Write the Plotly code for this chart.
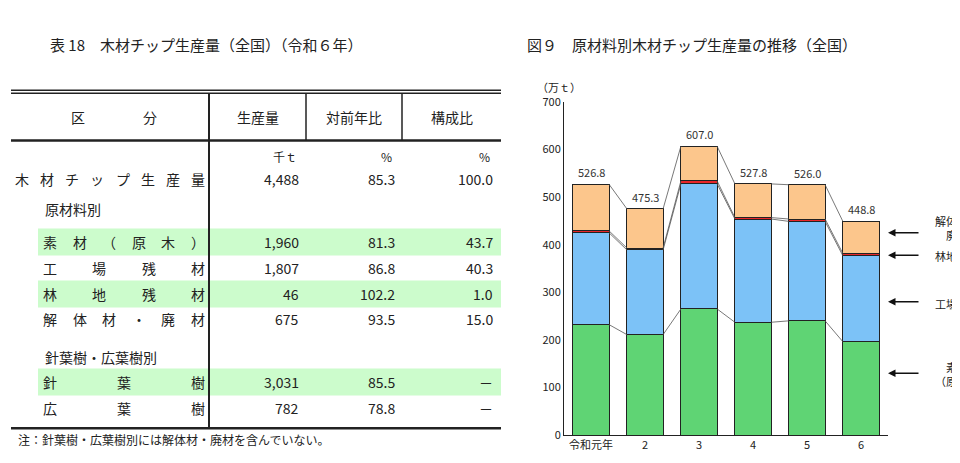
import plotly.graph_objects as go

years = ["令和元年", "2", "3", "4", "5", "6"]
sozai = [232.0, 211.0, 265.0, 237.0, 240.0, 196.0]
kojo = [193.0, 178.0, 263.0, 217.0, 209.0, 180.7]
rinchi = [4.0, 4.0, 6.0, 3.0, 5.0, 4.6]
kaitai = [97.8, 82.3, 73.0, 70.8, 72.0, 67.5]
totals = ["526.8", "475.3", "607.0", "527.8", "526.0", "448.8"]
series_names = ["素材（原木）", "工場残材", "林地残材", "解体材・廃材"]
series_colors = ["#5fd474", "#7cc2f7", "#e8262a", "#fcc68c"]

row_labels = ["木材チップ生産量", "原材料別", "素材（原木）", "工場残材", "林地残材", "解体材・廃材",
              "針葉樹・広葉樹別", "針葉樹", "広葉樹"]
col_prod = ["4,488", "", "1,960", "1,807", "46", "675", "", "3,031", "782"]
col_yoy = ["85.3", "", "81.3", "86.8", "102.2", "93.5", "", "85.5", "78.8"]
col_share = ["100.0", "", "43.7", "40.3", "1.0", "15.0", "", "－", "－"]
highlight = [False, False, True, False, True, False, False, True, False]
row_y = [168, 199, 233, 260, 287, 313, 352, 378, 405]

W, H = 960, 463
px = lambda x: x / W
py = lambda y: (H - y) / H
FONT = "Noto Sans CJK JP"

fig = go.Figure()
stack = [sozai, kojo, rinchi, kaitai]
xs = list(range(len(years)))
bw = 0.67
for vals, name, col in zip(stack, series_names, series_colors):
    fig.add_trace(go.Bar(x=xs, y=vals, name=name, width=bw, marker=dict(color=col, line=dict(color="#222", width=1))))
cum = [0] * len(xs)
for vals in stack:
    cum = [c + v for c, v in zip(cum, vals)]
    for i in range(len(xs) - 1):
        fig.add_trace(go.Scatter(x=[i + bw / 2, i + 1 - bw / 2], y=[cum[i], cum[i + 1]], mode="lines",
                                 line=dict(color="#555", width=0.8), hoverinfo="skip"))
for i, t in enumerate(totals):
    fig.add_annotation(x=i, y=cum[i], text=t, showarrow=False, yshift=12, font=dict(size=11, color="#333", family=FONT))

fig.update_layout(
    width=W, height=H, margin=dict(l=0, r=0, t=0, b=0), barmode="stack", showlegend=False,
    plot_bgcolor="white", paper_bgcolor="white", font=dict(family=FONT, color="#222"),
    xaxis=dict(domain=[px(556), px(880)], range=[-0.5, 5.5], tickvals=xs, ticktext=years, showline=True,
               linecolor="#222", ticks="", showgrid=False, zeroline=False, tickfont=dict(size=11)),
    yaxis=dict(domain=[py(433), py(88)], range=[0, 700], dtick=100, showline=True, linecolor="#222",
               ticks="", showgrid=False, zeroline=False, tickfont=dict(size=11)),
)

def ann(x, y, text, size=13, xanchor="left", **kw):
    fig.add_annotation(x=px(x), y=py(y), xref="paper", yref="paper", text=text, showarrow=False,
                       xanchor=xanchor, yanchor="middle", font=dict(size=size, family=FONT, color="#222"), **kw)

ann(527, 72, "（万ｔ）", size=11)
for label, yv, ty in [("解体材・<br>廃材", 425, 219), ("林地残材", 378, 248), ("工場残材", 280, 297), ("素材<br>（原木）", 130, 370)]:
    fig.add_annotation(x=px(880), y=yv, xref="paper", yref="y", ax=32, ay=0, axref="pixel", ayref="pixel",
                       showarrow=True, arrowhead=2, arrowsize=1, arrowwidth=1.5, arrowcolor="#111", text="")
    ann(925, ty, label, size=11)

ann(40, 28, "表 18　木材チップ生産量（全国）（令和６年）", size=15)
ann(517, 28, "図９　原材料別木材チップ生産量の推移（全国）", size=15)

shapes = []
def line(x0, y0, x1, y1, w=1):
    shapes.append(dict(type="line", xref="paper", yref="paper", x0=px(x0), y0=py(y0), x1=px(x1), y1=py(y1),
                       line=dict(color="#222", width=w)))
for r, hl in enumerate(highlight):
    if hl:
        shapes.append(dict(type="rect", xref="paper", yref="paper", x0=px(30), x1=px(493), y0=py(row_y[r] - 14),
                           y1=py(row_y[r] + 14), fillcolor="#ccfccc", line=dict(width=0), layer="below"))
line(3, 76, 493, 76, 1.5)
line(3, 79, 493, 79, 1.5)
line(3, 128, 493, 128, 2.5)
line(3, 426, 493, 426, 2.5)
line(201, 79, 201, 426, 2)
line(298, 79, 298, 128, 1.5)
line(394, 79, 394, 128, 1.5)
fig.update_layout(shapes=shapes)

ann(61, 104, "区", size=14)
ann(133, 104, "分", size=14)
ann(250, 104, "生産量", size=14, xanchor="center")
ann(346, 104, "対前年比", size=14, xanchor="center")
ann(444, 104, "構成比", size=14, xanchor="center")
ann(291, 144, "千ｔ", size=12, xanchor="right")
ann(386, 144, "%", size=12, xanchor="right")
ann(484, 144, "%", size=12, xanchor="right")

for r, lab in enumerate(row_labels):
    y = row_y[r]
    if lab in ("原材料別", "針葉樹・広葉樹別"):
        ann(35, y, lab, size=14)
        continue
    x0 = 7 if r == 0 else 35
    x1 = 197
    n = len(lab)
    cw = 14
    step = (x1 - x0 - cw) / (n - 1)
    for k, ch in enumerate(lab):
        ann(x0 + k * step + cw / 2, y, ch, size=14, xanchor="center")
    ann(293, y, col_prod[r], size=14, xanchor="right")
    ann(389, y, col_yoy[r], size=14, xanchor="right")
    ann(487, y, col_share[r], size=14, xanchor="right")

ann(8, 438, "注：針葉樹・広葉樹別には解体材・廃材を含んでいない。", size=12)

fig.write_html("out.html")
